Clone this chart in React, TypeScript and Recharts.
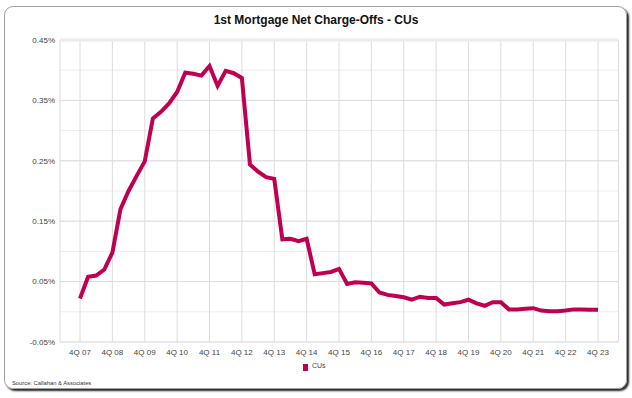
import { LineChart, Line, XAxis, YAxis, CartesianGrid, ReferenceLine, Legend } from 'recharts';

const quarters = [
  '4Q 07',
  '1Q 08', '2Q 08', '3Q 08', '4Q 08',
  '1Q 09', '2Q 09', '3Q 09', '4Q 09',
  '1Q 10', '2Q 10', '3Q 10', '4Q 10',
  '1Q 11', '2Q 11', '3Q 11', '4Q 11',
  '1Q 12', '2Q 12', '3Q 12', '4Q 12',
  '1Q 13', '2Q 13', '3Q 13', '4Q 13',
  '1Q 14', '2Q 14', '3Q 14', '4Q 14',
  '1Q 15', '2Q 15', '3Q 15', '4Q 15',
  '1Q 16', '2Q 16', '3Q 16', '4Q 16',
  '1Q 17', '2Q 17', '3Q 17', '4Q 17',
  '1Q 18', '2Q 18', '3Q 18', '4Q 18',
  '1Q 19', '2Q 19', '3Q 19', '4Q 19',
  '1Q 20', '2Q 20', '3Q 20', '4Q 20',
  '1Q 21', '2Q 21', '3Q 21', '4Q 21',
  '1Q 22', '2Q 22', '3Q 22', '4Q 22',
  '1Q 23', '2Q 23', '3Q 23', '4Q 23',
];

// net charge-off rate, in percent
const cuValues = [
  0.022,
  0.058, 0.060, 0.070, 0.098,
  0.170, 0.200, 0.225, 0.249,
  0.320, 0.331, 0.345, 0.364,
  0.396, 0.394, 0.391, 0.407,
  0.374, 0.399, 0.395, 0.387,
  0.244, 0.232, 0.223, 0.220,
  0.120, 0.121, 0.117, 0.121,
  0.062, 0.064, 0.066, 0.071,
  0.046, 0.049, 0.048, 0.047,
  0.032, 0.028, 0.026, 0.024,
  0.020, 0.025, 0.023, 0.023,
  0.012, 0.014, 0.016, 0.020,
  0.014, 0.010, 0.016, 0.016,
  0.004, 0.004, 0.005, 0.006,
  0.002, 0.001, 0.001, 0.002,
  0.004, 0.004, 0.0035, 0.0035,
];

const yTicks = [-0.05, 0, 0.05, 0.1, 0.15, 0.2, 0.25, 0.3, 0.35, 0.4, 0.45];
const yLabelTicks = [-0.05, 0.05, 0.15, 0.25, 0.35, 0.45];

const LINE_COLOR = '#BF0050';
const FONT = '"Liberation Sans", Arial, sans-serif';

const chartData = quarters.map((q, i) => ({ q, cu: cuValues[i] }));

export default function App() {
  return (
    <div style={{ position: 'absolute', left: 0, top: 0, width: 632, height: 398, background: '#fff', fontFamily: FONT }}>
      <div
        style={{
          position: 'absolute',
          left: 4,
          top: 6,
          width: 623,
          height: 383,
          boxSizing: 'border-box',
          border: '1px solid #a0a0a0',
          borderRadius: 9,
          boxShadow: '2px 2px 2px rgba(0,0,0,0.85)',
        }}
      />
      <div
        style={{
          position: 'absolute',
          left: 0,
          top: 13,
          width: 632,
          textAlign: 'center',
          fontSize: 12,
          lineHeight: '14px',
          fontWeight: 'bold',
          color: '#111',
        }}
      >
        1st Mortgage Net Charge-Offs - CUs
      </div>
      <div style={{ position: 'absolute', left: 0, top: 0 }}>
        <LineChart width={632} height={398} data={chartData} margin={{ top: 40, right: 13.5, bottom: 26, left: 0 }}>
          <CartesianGrid vertical={false} stroke="#ededed" />
          <CartesianGrid horizontal={false} stroke="#dcdcdc" />
          {yLabelTicks.map((v) => (
            <ReferenceLine
              key={v}
              y={v}
              stroke={v === 0.45 ? '#ebebeb' : '#dcdcdc'}
              strokeWidth={v === 0.45 ? 3 : 1}
            />
          ))}
          <XAxis
            dataKey="q"
            interval={3}
            padding={{ left: 20, right: 20.5 }}
            axisLine={false}
            tickLine={false}
            tickSize={5}
            tickMargin={2}
            tick={{ fontSize: 8, fill: '#444', fontFamily: FONT }}
          />
          <YAxis
            width={60}
            domain={[-0.05, 0.45]}
            ticks={yTicks}
            axisLine={false}
            tickLine={false}
            tickSize={3}
            tickMargin={2}
            tick={{ fontSize: 8, fill: '#444', fontFamily: FONT }}
            tickFormatter={(v: number) => (yLabelTicks.some((t) => Math.abs(t - v) < 1e-9) ? `${v.toFixed(2)}%` : '')}
          />
          <YAxis
            yAxisId="right"
            orientation="right"
            width={0}
            domain={[-0.05, 0.45]}
            tick={false}
            tickLine={false}
            axisLine={{ stroke: '#b8b8b8' }}
          />
          <Legend
            verticalAlign="middle"
            align="center"
            wrapperStyle={{ left: 0, top: 361, width: 632 }}
            content={() => (
              <div style={{ display: 'flex', justifyContent: 'center', alignItems: 'center', paddingRight: 3, fontSize: 7, lineHeight: '10px', color: '#444', fontFamily: FONT }}>
                <span style={{ display: 'inline-block', width: 5, height: 7, background: LINE_COLOR, marginRight: 3.5, marginTop: 2 }} />
                <span>CUs</span>
              </div>
            )}
          />
          <Line
            type="linear"
            dataKey="cu"
            name="CUs"
            stroke={LINE_COLOR}
            strokeWidth={4}
            dot={false}
            activeDot={false}
            isAnimationActive={false}
          />
        </LineChart>
      </div>
      <div style={{ position: 'absolute', left: 12, top: 379, fontSize: 5.8, lineHeight: '8px', color: '#333' }}>
        Source: Callahan &amp; Associates
      </div>
    </div>
  );
}
